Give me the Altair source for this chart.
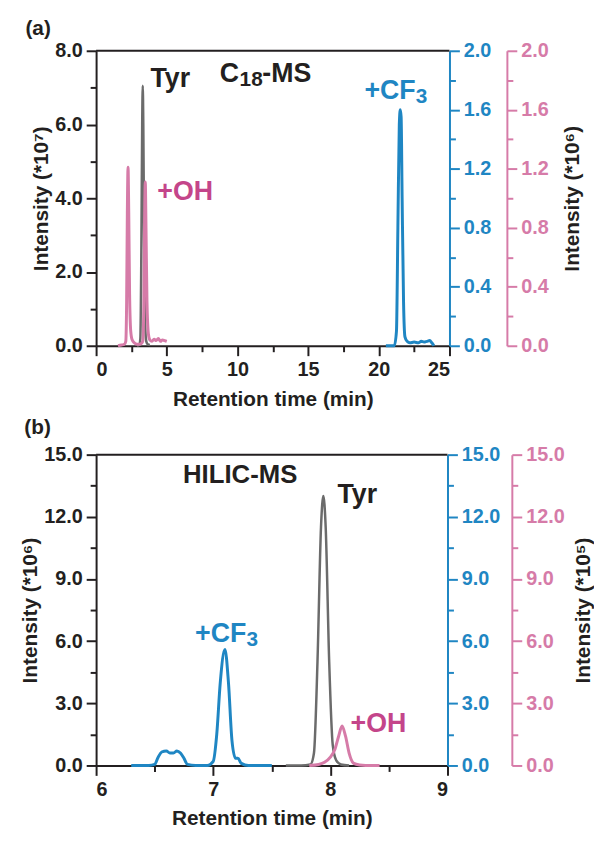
import altair as alt
import pandas as pd

# ---------------- (a) C18-MS ----------------
a_tyr_t = [2.9, 3.05, 3.13, 3.2, 3.26, 3.3, 3.34, 3.4, 3.47, 3.55, 3.65, 3.8]
a_tyr_v = [0.0, 0.02, 0.2, 2.5, 6.0, 7.05, 6.0, 2.8, 0.6, 0.12, 0.04, 0.02]

a_cf3_t = [20.5, 20.8, 21.1, 21.25, 21.35, 21.45, 21.52, 21.58, 21.65, 21.75, 21.85, 22.0,
           22.2, 22.5, 22.8, 23.0, 23.2, 23.4, 23.6, 23.75, 23.9]
a_cf3_v = [0.0, 0.0, 0.0, 0.1, 0.8, 1.5, 1.6, 1.55, 1.0, 0.3, 0.06, 0.03,
           0.02, 0.025, 0.02, 0.03, 0.025, 0.03, 0.035, 0.02, 0.0]

a_oh_t = [1.55, 1.8, 2.0, 2.1, 2.16, 2.21, 2.26, 2.31, 2.37, 2.45, 2.55, 2.7, 2.9, 3.1,
          3.3, 3.38, 3.43, 3.48, 3.53, 3.6, 3.7, 3.8, 3.95, 4.1, 4.25, 4.4, 4.55, 4.7, 4.85, 5.0]
a_oh_v = [0.0, 0.005, 0.01, 0.03, 0.3, 0.9, 1.21, 0.9, 0.35, 0.1, 0.04, 0.02, 0.01, 0.01,
          0.03, 0.3, 0.85, 1.11, 0.8, 0.3, 0.08, 0.04, 0.03, 0.045, 0.035, 0.05, 0.03, 0.04, 0.035, 0.03]

# annotation texts and their anchor (time, left-axis intensity)
a_lab = ["(a)", "Tyr", "C", "18", "-MS", "+OH", "+CF", "3"]
a_lab_t = [-4.1, 5.25, 8.75, 8.75, 8.75, 6.3, 18.98, 18.98]
a_lab_v = [8.59, 7.22, 7.38, 7.38, 7.38, 4.16, 6.9, 6.9]

# ---------------- (b) HILIC-MS ----------------
b_tyr_t = [7.62, 7.75, 7.83, 7.86, 7.89, 7.92, 7.94, 7.96, 7.99, 8.02, 8.05, 8.09, 8.16]
b_tyr_v = [0.0, 0.0, 0.05, 0.6, 5.0, 11.5, 13.0, 11.5, 5.0, 1.0, 0.25, 0.05, 0.0]

b_cf3_t = [6.3, 6.45, 6.5, 6.53, 6.56, 6.6, 6.63, 6.66, 6.69, 6.72, 6.75, 6.78, 6.85, 6.95,
           7.0, 7.03, 7.06, 7.1, 7.13, 7.16, 7.19, 7.21, 7.24, 7.3, 7.5]
b_cf3_v = [0.0, 0.0, 0.05, 0.4, 0.65, 0.7, 0.6, 0.6, 0.7, 0.6, 0.35, 0.05, 0.0, 0.0,
           0.2, 1.5, 4.0, 5.6, 4.0, 1.2, 0.35, 0.35, 0.1, 0.0, 0.0]

b_oh_t = [7.82, 7.9, 7.95, 8.0, 8.04, 8.07, 8.1, 8.13, 8.16, 8.2, 8.25, 8.3, 8.42]
b_oh_v = [0.0, 0.05, 0.15, 0.4, 0.8, 1.4, 1.9, 1.4, 0.6, 0.1, 0.02, 0.0, 0.0]

b_lab = ["(b)", "HILIC-MS", "Tyr", "+CF", "3", "+OH"]
b_lab_t = [5.5, 7.23, 8.23, 6.845, 6.845, 8.41]
b_lab_v = [16.3, 14.0, 13.04, 6.35, 6.35, 2.0]

FONT = "Liberation Sans"
BLACK = "#231f20"
GRAY = "#6b6b6b"
BLUE = "#1f86c3"
PINK = "#d67ba8"
PINK_TXT = "#c4458a"

# styles for each annotation piece: (color, size, align, dx, dy)
a_sty = [(BLACK, 21, "center", 0, 0), (BLACK, 27, "center", 0, 0),
         (BLACK, 27, "left", 0, 0), (BLACK, 21, "left", 20, 6), (BLACK, 27, "left", 43, 0),
         (PINK_TXT, 27, "center", 0, 0), (BLUE, 27, "left", 0, 0), (BLUE, 21, "left", 52, 6)]
b_sty = [(BLACK, 21, "center", 0, 0), (BLACK, 26, "center", 0, 0), (BLACK, 27, "center", 0, 0),
         (BLUE, 27, "left", 0, 0), (BLUE, 21, "left", 52, 6), (PINK_TXT, 27, "center", 0, 0)]


def major(step):
    return f"abs(datum.value / {step} - round(datum.value / {step})) < 0.001"


def make_axis(vals, step, color, fmt=".1f", orient=None, offset=None, title=None,
              title_pad=3, title_angle=None, title_baseline=None):
    kw = dict(values=vals,
              labelExpr=f"{major(step)} ? format(datum.value, '{fmt}') : ''",
              tickSize={"condition": {"test": major(step), "value": 10}, "value": 6},
              domainColor=color, tickColor=color, labelColor=color, grid=False,
              domainWidth=2, tickWidth=2, labelFont=FONT, labelFontSize=20,
              labelFontWeight="bold", labelPadding=4)
    if orient:
        kw["orient"] = orient
    if offset is not None:
        kw["offset"] = offset
    if title:
        kw.update(title=title, titleFont=FONT, titleFontSize=21, titleFontWeight="bold",
                  titleColor=BLACK, titlePadding=title_pad)
        if title_angle is not None:
            kw["titleAngle"] = title_angle
        if title_baseline is not None:
            kw["titleBaseline"] = title_baseline
    else:
        kw["title"] = None
    return alt.Axis(**kw)


def frange(a, b, s):
    n = int(round((b - a) / s))
    return [round(a + i * s, 4) for i in range(n + 1)]


def panel(W, H, x_dom, x_step, x_major, y_dom, y_step, y_major, r_dom, r_step, r_major,
          left_title, right_title, pink_off, right_pad, tyr, cf3, oh, labels, styles):
    x_enc = alt.X("t:Q", scale=alt.Scale(domain=x_dom, nice=False, zero=False),
                  axis=make_axis(frange(x_dom[0], x_dom[1], x_step), x_major, BLACK, fmt=".0f",
                                 title="Retention time (min)", title_pad=9))
    gray = alt.Chart(pd.DataFrame({"t": tyr[0], "v": tyr[1]})).mark_line(
        color=GRAY, strokeWidth=2.5, interpolate="monotone").encode(
        x=x_enc,
        y=alt.Y("v:Q", scale=alt.Scale(domain=y_dom, nice=False),
                axis=make_axis(frange(y_dom[0], y_dom[1], y_step), y_major, BLACK,
                               orient="left", title=left_title)))
    blue = alt.Chart(pd.DataFrame({"t": cf3[0], "v": cf3[1]})).mark_line(
        color=BLUE, strokeWidth=3, interpolate="monotone").encode(
        x=x_enc,
        y=alt.Y("v:Q", scale=alt.Scale(domain=r_dom, nice=False),
                axis=make_axis(frange(r_dom[0], r_dom[1], r_step), r_major, BLUE,
                               orient="right")))
    pink = alt.Chart(pd.DataFrame({"t": oh[0], "v": oh[1]})).mark_line(
        color=PINK, strokeWidth=3, interpolate="monotone").encode(
        x=x_enc,
        y=alt.Y("v:Q", scale=alt.Scale(domain=r_dom, nice=False),
                axis=make_axis(frange(r_dom[0], r_dom[1], r_step), r_major, PINK,
                               orient="right", offset=pink_off, title=right_title,
                               title_pad=right_pad, title_angle=270, title_baseline="top")))
    texts = []
    for txt, t, v, (c, s, al, dx, dy) in zip(labels[0], labels[1], labels[2], styles):
        texts.append(alt.Chart(pd.DataFrame({"label": [txt], "t": [t], "v": [v]})).mark_text(
            font=FONT, fontWeight="bold", align=al, baseline="middle", color=c, fontSize=s,
            dx=dx, dy=dy).encode(
            x=x_enc,
            y=alt.Y("v:Q", scale=alt.Scale(domain=y_dom, nice=False), axis=None),
            text="label:N"))
    top_line = alt.Chart(pd.DataFrame({"t": [0]})).mark_rule(color=BLACK, strokeWidth=2).encode(
        x=alt.value(0), x2=alt.value(W), y=alt.value(0))
    return alt.layer(top_line, gray, blue, pink, *texts).resolve_scale(y="independent").properties(
        width=W, height=H)


top = panel(357, 298, [0, 25], 2.5, 5, [0, 8], 1, 2, [0, 2], 0.2, 0.4,
            "Intensity (*10\u2077)", "Intensity (*10\u2076)", 58, 14,
            (a_tyr_t, a_tyr_v), (a_cf3_t, a_cf3_v), (a_oh_t, a_oh_v),
            (a_lab, a_lab_t, a_lab_v), a_sty)

bottom = panel(355, 314, [6, 9], 0.5, 1, [0, 15], 1.5, 3, [0, 15], 1.5, 3,
               "Intensity (*10\u2076)", "Intensity (*10\u2075)", 65, 9,
               (b_tyr_t, b_tyr_v), (b_cf3_t, b_cf3_v), (b_oh_t, b_oh_v),
               (b_lab, b_lab_t, b_lab_v), b_sty)

chart = alt.vconcat(top, bottom, spacing=7).properties(
    padding={"left": 12, "top": 6, "right": 0, "bottom": 0}
).configure_view(stroke=None)

chart.save("out.html", embed_options={"renderer": "svg", "actions": False})
